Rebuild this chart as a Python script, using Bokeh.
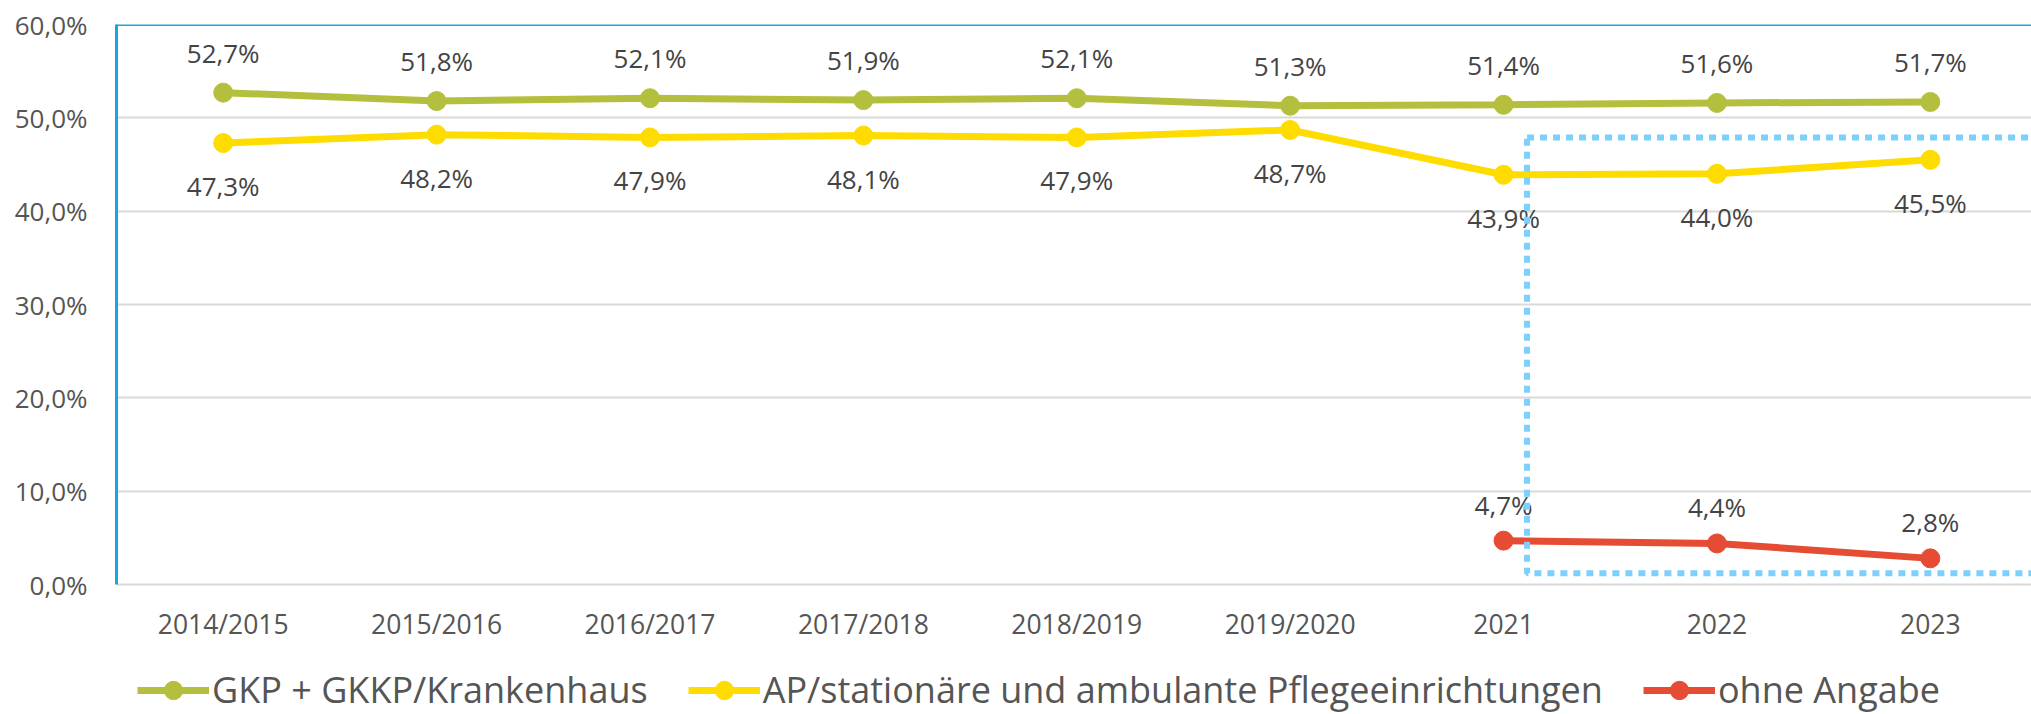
from bokeh.plotting import figure
from bokeh.models import Range1d, FixedTicker, Span, Legend, LegendItem, ColumnDataSource
from bokeh.core.properties import value
from bokeh.embed import file_html
from bokeh.resources import INLINE

# ---- data ----
categories = ["2014/2015", "2015/2016", "2016/2017", "2017/2018", "2018/2019",
              "2019/2020", "2021", "2022", "2023"]
gkp_values = [52.7, 51.8, 52.1, 51.9, 52.1, 51.3, 51.4, 51.6, 51.7]
ap_values = [47.3, 48.2, 47.9, 48.1, 47.9, 48.7, 43.9, 44.0, 45.5]
ohne_categories = ["2021", "2022", "2023"]
ohne_values = [4.7, 4.4, 2.8]
y_ticks = [0, 10, 20, 30, 40, 50, 60]
y_tick_labels = ["0,0%", "10,0%", "20,0%", "30,0%", "40,0%", "50,0%", "60,0%"]
series_names = ["GKP + GKKP/Krankenhaus",
                "AP/stationäre und ambulante Pflegeeinrichtungen",
                "ohne Angabe"]

# ---- styles ----
FONT = "Open Sans"
GREEN = "#B5BF3E"
YELLOW = "#FFDC00"
RED = "#E64B33"
BLUE = "#1AA5E0"
DOT_BLUE = "#7DD0FC"
GRID = "#D9D9D9"
AXIS_TEXT = "#555555"
LABEL_TEXT = "#444444"

# the frame is extended below 0 to leave room for category labels and legend
Y_MIN = -130 / (560 / 60)


def pct(v):
    return f"{v:.1f}".replace(".", ",") + "%"


p = figure(width=2031, height=714,
           x_range=Range1d(-0.5, 8.474), y_range=Range1d(Y_MIN, 60),
           output_backend="svg", toolbar_location=None,
           min_border_left=116, min_border_right=0,
           min_border_top=24, min_border_bottom=0)
p.outline_line_color = None
p.background_fill_color = "white"
p.border_fill_color = "white"

# grid
p.xgrid.visible = False
p.ygrid.ticker = FixedTicker(ticks=y_ticks)
p.ygrid.grid_line_color = GRID
p.ygrid.grid_line_width = 2

# y axis
p.yaxis.ticker = FixedTicker(ticks=y_ticks)
p.yaxis.bounds = (0, 60)
p.yaxis.major_label_overrides = {t: l for t, l in zip(y_ticks, y_tick_labels)}
p.yaxis.axis_line_color = BLUE
p.yaxis.axis_line_width = 3
p.yaxis.major_tick_line_color = None
p.yaxis.minor_tick_line_color = None
p.yaxis.major_tick_out = 0
p.yaxis.major_label_standoff = 29
p.yaxis.major_label_text_font = FONT
p.yaxis.major_label_text_font_size = "26px"
p.yaxis.major_label_text_color = AXIS_TEXT

# x axis: category labels drawn as text under the zero line
xs = list(range(len(categories)))
p.xaxis.visible = False
p.text(x=xs, y=[0] * len(xs), text=categories, y_offset=39,
       text_align="center", text_baseline="middle",
       text_font=value(FONT), text_font_size="26.5px", text_color=AXIS_TEXT)

# top border
p.add_layout(Span(location=60, dimension="width", line_color=BLUE, line_width=3))

# series
ohne_x = [categories.index(c) for c in ohne_categories]
series = [
    (xs, gkp_values, GREEN, -40),
    (xs, ap_values, YELLOW, 43),
    (ohne_x, ohne_values, RED, -36),
]
items = []
for (sx, sy, col, off), name in zip(series, series_names):
    src = ColumnDataSource(dict(x=sx, y=sy, lab=[pct(v) for v in sy]))
    ln = p.line("x", "y", source=src, line_color=col, line_width=7)
    sc = p.scatter("x", "y", source=src, marker="circle", size=19,
                   fill_color=col, line_color=col)
    p.text("x", "y", text="lab", source=src, y_offset=off,
           text_align="center", text_baseline="middle",
           text_font=value(FONT), text_font_size="26px", text_color=LABEL_TEXT)
    items.append(LegendItem(label=name, renderers=[ln, sc]))

# highlight box (dotted)
p.quad(left=[6.11], right=[9.6], bottom=[1.2], top=[47.9],
       fill_color=None, line_color=DOT_BLUE, line_width=6, line_dash="7 6")

legend = Legend(items=items, orientation="horizontal", location=(21, 0),
                glyph_width=72, glyph_height=46, label_standoff=3, spacing=40,
                padding=0, margin=0, border_line_color=None,
                background_fill_alpha=0,
                label_text_font=FONT, label_text_font_size="36px",
                label_text_color=AXIS_TEXT)
p.add_layout(legend)

open("out.html", "w").write(file_html(p, INLINE))
